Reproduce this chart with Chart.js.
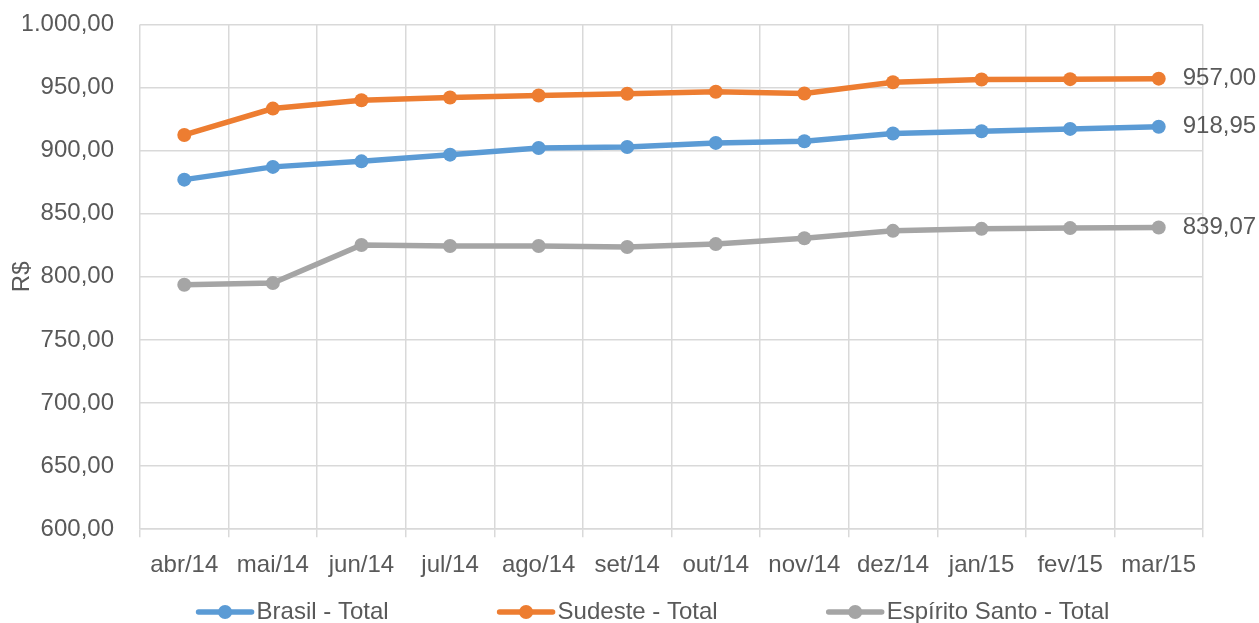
<!DOCTYPE html>
<html>
<head>
<meta charset="utf-8">
<script src="https://cdn.jsdelivr.net/npm/chart.js@4/dist/chart.umd.min.js"></script>
<style>
  html, body { margin: 0; padding: 0; background: #fff; }
  #wrap { width: 1259px; height: 623px; }
</style>
</head>
<body>
<div id="wrap"><canvas id="grafico"></canvas></div>
<script>
const meses = ['abr/14','mai/14','jun/14','jul/14','ago/14','set/14','out/14','nov/14','dez/14','jan/15','fev/15','mar/15'];
const brasil = [877.0, 887.1, 891.5, 896.8, 902.1, 902.9, 906.1, 907.4, 913.5, 915.3, 917.2, 918.95];
const sudeste = [912.4, 933.3, 939.9, 942.1, 943.7, 945.0, 946.6, 945.2, 954.2, 956.3, 956.6, 957.00];
const espiritoSanto = [793.7, 795.0, 825.2, 824.4, 824.4, 823.6, 825.9, 830.6, 836.4, 838.0, 838.6, 839.07];
const yTicks = [600, 650, 700, 750, 800, 850, 900, 950, 1000];

const FONTE = "'Liberation Sans', Arial, sans-serif";
const TAM = 24;
const COR_TEXTO = '#595959';
const COR_GRADE = '#d9d9d9';

function formatarBR(v) {
  const partes = v.toFixed(2).split('.');
  const inteiro = partes[0].replace(/\B(?=(\d{3})+(?!\d))/g, '.');
  return inteiro + ',' + partes[1];
}

function serie(label, data, cor) {
  return {
    label, data,
    borderColor: cor, backgroundColor: cor,
    borderWidth: 5.5, tension: 0,
    pointRadius: 7, pointHoverRadius: 7,
    pointBackgroundColor: cor, pointBorderColor: cor, pointBorderWidth: 0
  };
}

// rotulo do ultimo ponto, titulo do eixo e legenda desenhados a mao
const extras = {
  id: 'extras',
  afterDatasetsDraw(chart) {
    const ctx = chart.ctx;
    ctx.save();
    ctx.font = TAM + 'px ' + FONTE;
    ctx.fillStyle = COR_TEXTO;
    ctx.textBaseline = 'middle';
    ctx.textAlign = 'left';
    chart.data.datasets.forEach((ds, i) => {
      const pts = chart.getDatasetMeta(i).data;
      const p = pts[pts.length - 1];
      ctx.fillText(formatarBR(ds.data[ds.data.length - 1]), p.x + 24, p.y);
    });

    // titulo R$
    const area = chart.chartArea;
    ctx.save();
    ctx.translate(22, (area.top + area.bottom) / 2);
    ctx.rotate(-Math.PI / 2);
    ctx.textAlign = 'center';
    ctx.fillText('R$', 0, 0);
    ctx.restore();

    // legenda
    const ly = 612;
    const larguras = chart.data.datasets.map(ds => ctx.measureText(ds.label).width);
    const total = larguras.reduce((s, w) => s + w, 0) + 3 * 60 + 2 * 109;
    let x = 653 - total / 2;
    chart.data.datasets.forEach((ds, i) => {
      ctx.strokeStyle = ds.borderColor;
      ctx.lineWidth = 5.5;
      ctx.lineCap = 'round';
      ctx.beginPath();
      ctx.moveTo(x + 2, ly);
      ctx.lineTo(x + 55, ly);
      ctx.stroke();
      ctx.fillStyle = ds.borderColor;
      ctx.beginPath();
      ctx.arc(x + 28.5, ly, 7, 0, Math.PI * 2);
      ctx.fill();
      ctx.fillStyle = COR_TEXTO;
      ctx.fillText(ds.label, x + 60, ly);
      x += 60 + larguras[i] + 109;
    });
    ctx.restore();
  }
};

new Chart(document.getElementById('grafico'), {
  type: 'line',
  data: {
    labels: meses,
    datasets: [
      serie('Brasil - Total', brasil, '#5b9bd5'),
      serie('Sudeste - Total', sudeste, '#ed7d31'),
      serie('Espírito Santo - Total', espiritoSanto, '#a5a5a5')
    ]
  },
  options: {
    responsive: true,
    maintainAspectRatio: false,
    animation: false,
    layout: { padding: { left: 23, right: 56, top: 10, bottom: 29 } },
    plugins: {
      legend: { display: false },
      tooltip: { enabled: false }
    },
    scales: {
      x: {
        offset: true,
        grid: { offset: true, color: COR_GRADE, lineWidth: 1.5, drawTicks: true, tickLength: 8 },
        border: { color: COR_GRADE, width: 1.5 },
        ticks: { color: COR_TEXTO, font: { family: FONTE, size: TAM }, padding: 14, maxRotation: 0, autoSkip: false }
      },
      y: {
        min: 600, max: 1000,
        afterBuildTicks: axis => { axis.ticks = yTicks.map(v => ({ value: v })); },
        afterFit: axis => { axis.width = 117; },
        grid: { color: COR_GRADE, lineWidth: 1.5, drawTicks: true, tickLength: 16, tickColor: 'rgba(0,0,0,0)' },
        border: { display: false },
        ticks: { color: COR_TEXTO, font: { family: FONTE, size: TAM }, padding: 10, callback: v => formatarBR(v) }
      }
    }
  },
  plugins: [extras]
});
</script>
</body>
</html>
